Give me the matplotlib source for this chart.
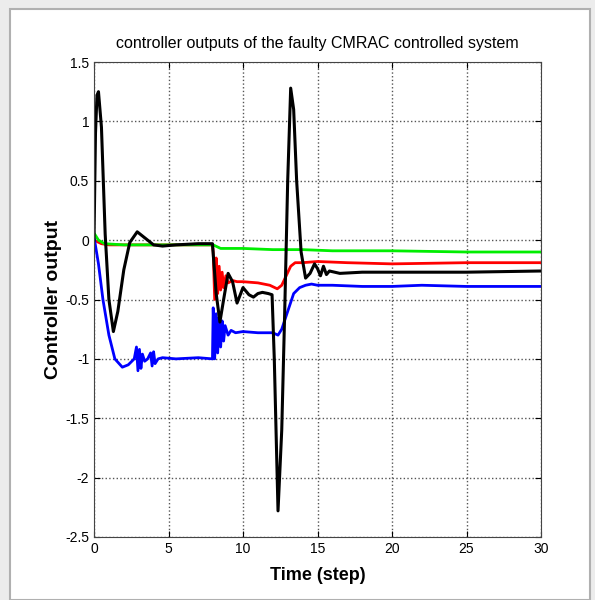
import matplotlib
matplotlib.use('Agg')
import matplotlib.pyplot as plt
from matplotlib.patches import Rectangle

# controller outputs
t_black = [0, 0.1, 0.2, 0.3, 0.5, 0.75, 1.0, 1.3, 1.6, 2.0, 2.4, 2.9, 3.4, 4.0,
           4.6, 5.5, 7.0, 7.95, 8.05, 8.2, 8.45, 8.7, 9.0, 9.3, 9.6, 10.0, 10.4,
           10.7, 11.0, 11.3, 11.7, 11.95, 12.1, 12.35, 12.6, 12.8, 13.0, 13.2,
           13.4, 13.6, 13.9, 14.2, 14.5, 14.8, 15.0, 15.2, 15.4, 15.6, 15.8,
           16.5, 18, 20, 25, 30]
y_black = [0.0, 0.9, 1.22, 1.25, 0.95, 0.05, -0.5, -0.77, -0.6, -0.25, -0.02,
           0.07, 0.02, -0.04, -0.05, -0.04, -0.03, -0.03, -0.2, -0.45, -0.69,
           -0.5, -0.28, -0.35, -0.53, -0.4, -0.46, -0.48, -0.45, -0.44, -0.45,
           -0.46, -1.0, -2.28, -1.6, -0.6, 0.5, 1.28, 1.1, 0.5, -0.1, -0.32,
           -0.28, -0.2, -0.24, -0.3, -0.22, -0.29, -0.26, -0.28, -0.27, -0.27,
           -0.27, -0.26]

t_blue = [0, 0.3, 0.6, 1.0, 1.4, 1.9, 2.3, 2.7, 2.85, 2.95, 3.05, 3.15, 3.25,
          3.4, 3.6, 3.8, 3.9, 4.0, 4.1, 4.3, 4.6, 5.5, 7.0, 7.95, 8.0, 8.1, 8.2,
          8.3, 8.4, 8.5, 8.6, 8.7, 8.8, 9.0, 9.2, 9.5, 10, 11, 12, 12.35, 12.6,
          13.0, 13.4, 13.8, 14.2, 14.6, 15, 16, 18, 20, 22, 25, 28, 30]
y_blue = [0.03, -0.2, -0.5, -0.8, -1.0, -1.07, -1.05, -1.0, -0.9, -1.1, -0.92,
          -1.08, -0.96, -1.02, -1.0, -0.95, -1.06, -0.94, -1.04, -1.0, -0.99,
          -1.0, -0.99, -1.0, -0.57, -1.0, -0.62, -0.95, -0.65, -0.9, -0.68,
          -0.85, -0.72, -0.8, -0.76, -0.78, -0.77, -0.78, -0.78, -0.8, -0.75,
          -0.6, -0.45, -0.4, -0.38, -0.37, -0.38, -0.38, -0.39, -0.39, -0.38,
          -0.39, -0.39, -0.39]

t_red = [0, 0.5, 1, 3, 5, 7.95, 8.0, 8.1, 8.2, 8.3, 8.4, 8.5, 8.6, 8.7, 8.85,
         9.0, 9.3, 9.6, 10, 11, 11.8, 12.3, 12.6, 12.9, 13.2, 13.5, 14, 15, 17,
         20, 25, 30]
y_red = [0.0, -0.03, -0.04, -0.04, -0.04, -0.04, -0.1, -0.5, -0.15, -0.45,
         -0.22, -0.42, -0.27, -0.4, -0.3, -0.36, -0.34, -0.35, -0.35, -0.36,
         -0.38, -0.41, -0.38, -0.3, -0.22, -0.19, -0.19, -0.18, -0.19, -0.2,
         -0.19, -0.19]

t_green = [0, 0.3, 0.7, 2, 5, 8, 8.5, 10, 12, 14, 16, 20, 25, 30]
y_green = [0.06, 0.0, -0.03, -0.04, -0.04, -0.04, -0.07, -0.07, -0.08, -0.08,
           -0.09, -0.09, -0.1, -0.1]

plt.rcParams['font.family'] = ['Liberation Sans', 'DejaVu Sans']

fig = plt.figure(figsize=(5.95, 6.0), dpi=100)
fig.patch.set_facecolor('#ececec')
fig.patches.append(Rectangle((10 / 595, 0), 580 / 595, 591 / 600,
                             transform=fig.transFigure, facecolor='white',
                             edgecolor='#b0b0b0', linewidth=1.5, zorder=-1))

ax = fig.add_axes([94 / 595, 63 / 600, 447 / 595, 475 / 600])
ax.set_zorder(1)
ax.plot(t_red, y_red, color='red', linewidth=2)
ax.plot(t_blue, y_blue, color='blue', linewidth=2)
ax.plot(t_green, y_green, color='#00ee00', linewidth=2)
ax.plot(t_black, y_black, color='black', linewidth=2.2)

ax.set_xlim(0, 30)
ax.set_ylim(-2.5, 1.5)
ax.set_xticks([0, 5, 10, 15, 20, 25, 30])
ax.set_yticks([-2.5, -2, -1.5, -1, -0.5, 0, 0.5, 1, 1.5])
ax.set_yticklabels(['-2.5', '-2', '-1.5', '-1', '-0.5', '0', '0.5', '1', '1.5'])
ax.tick_params(direction='in', top=True, right=True, labelsize=10, length=4)
ax.grid(True, linestyle=':', color='#555555', linewidth=1)
for s in ax.spines.values():
    s.set_color('#444444')

ax.set_title('controller outputs of the faulty CMRAC controlled system',
             fontsize=11.5, pad=10)
ax.set_xlabel('Time (step)', fontsize=13, fontweight='bold', labelpad=8)
ax.set_ylabel('Controller output', fontsize=14, fontweight='bold')
ax.yaxis.set_label_coords(-0.072, 0.5)

fig.savefig('out.png', dpi=100)
